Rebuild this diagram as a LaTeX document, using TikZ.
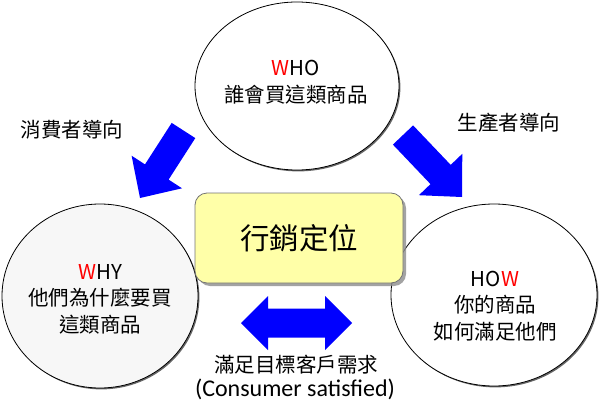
\documentclass[tikz,border=0pt]{standalone}
\usepackage{fontspec}
\setmainfont{Noto Sans CJK TC}
\newfontfamily\carlito{Carlito}
\usetikzlibrary{shapes.geometric,shadows}
\definecolor{boxyellow}{HTML}{FFFFA8}
\definecolor{arrowblue}{HTML}{0000FF}
\definecolor{lightgrayfill}{HTML}{F7F7F7}
\begin{document}
\begin{tikzpicture}[x=1pt,y=-1pt,
  bubble/.style={ellipse,draw=black,line width=0.8pt,inner sep=0pt,
    drop shadow={shadow xshift=1.4pt,shadow yshift=-1.4pt,fill=black,opacity=0.6}},
  bubbletext/.style={align=center,font=\fontsize{20.5}{26.5}\selectfont},
  blockarrow/.style={fill=arrowblue,draw=none},
  lbl/.style={font=\fontsize{20.5}{24}\selectfont,inner sep=0pt}]
\useasboundingbox (0,0) rectangle (600,415);
% ellipses
\node[bubble,fill=white,minimum width=204pt,minimum height=168pt] (who) at (297,86) {};
\node[bubble,fill=lightgrayfill,minimum width=196pt,minimum height=184pt] (why) at (100,296) {};
\node[bubble,fill=white,minimum width=206pt,minimum height=182pt] (how) at (494,295) {};
% texts in ellipses
\node[bubbletext] (whot) at (296,82) {\textcolor{red}{W}HO\\誰會買這類商品};
\node[bubbletext] (whyt) at (100,299) {\textcolor{red}{W}HY\\他們為什麼要買\\這類商品};
\node[bubbletext] (howt) at (495,306) {HO\textcolor{red}{W}\\你的商品\\如何滿足他們};
% central box
\node[draw=black!55,line width=0.8pt,fill=boxyellow,rounded corners=12pt,
  minimum width=208pt,minimum height=90pt,inner sep=0pt,
  drop shadow={shadow xshift=3pt,shadow yshift=-3pt,fill=black!45,opacity=0.8},
  font=\fontsize{29.5}{34}\selectfont] (box) at (299,238) {行銷定位};
% block arrows
\path[blockarrow] (171.7,122.9) -- (195.3,138.1) -- (168.6,179.6) -- (182.0,188.3)
  -- (140,198) -- (131.6,155.7) -- (145.0,164.4) -- cycle;
\path[blockarrow] (413.1,125.4) -- (450.7,164.9) -- (462.3,153.8) -- (462,197)
  -- (418.9,195.2) -- (430.5,184.1) -- (392.9,144.6) -- cycle;
\path[blockarrow] (241,323) -- (268,296) -- (268,308.5) -- (325,308.5) -- (325,296)
  -- (352,323) -- (325,350) -- (325,337.5) -- (268,337.5) -- (268,350) -- cycle;
% labels
\node[lbl] (consumer) at (72,130) {消費者導向};
\node[lbl] (producer) at (509,123) {生產者導向};
\node[lbl] (satisfy) at (296,365) {滿足目標客戶需求};
\node[inner sep=0pt,font=\carlito\fontsize{24}{28}\selectfont] (satisfyen) at (295,389) {(Consumer satisfied)};
\end{tikzpicture}
\end{document}
